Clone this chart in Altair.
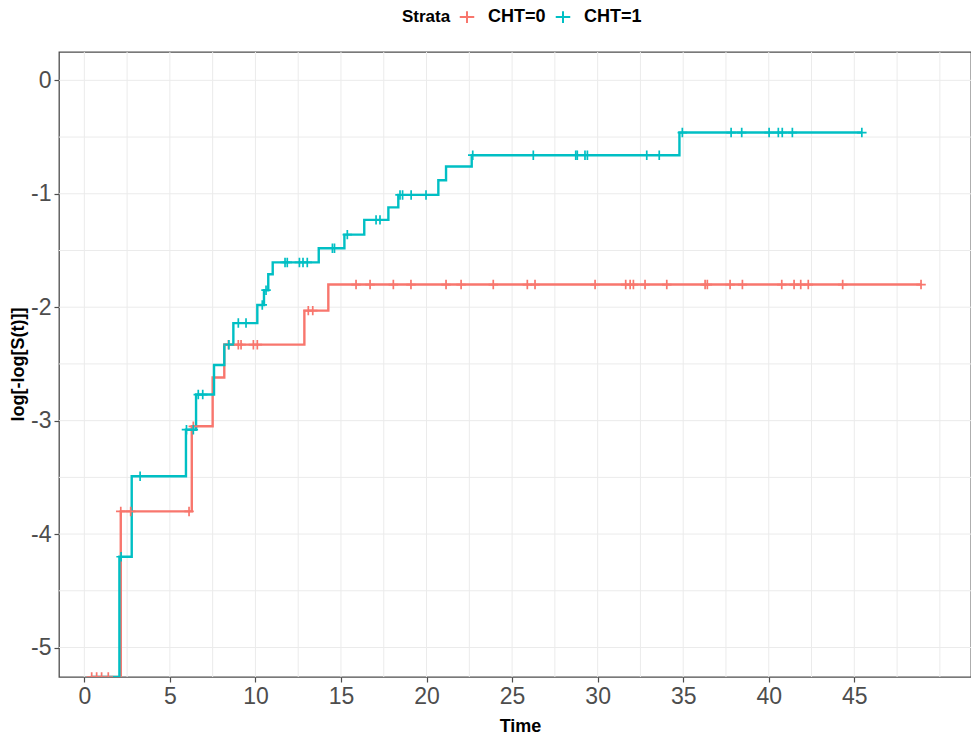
import altair as alt
import pandas as pd

# Scale limits of the panel
X_MIN, X_MAX = -1.48, 51.82
Y_MIN, Y_MAX = -5.26, 0.25
# log(-log(1)) is -inf: those stretches sit on the panel floor
FLOOR = Y_MIN

strata = ["CHT=0", "CHT=1"]
colors = ["#F8766D", "#00BFC4"]

# Step curves: time of each jump and the level reached there
cht0_times = [0.40, 2.13, 6.28, 7.50, 8.18, 12.86, 14.26, 48.90]
cht0_levels = [FLOOR, -3.80, -3.05, -2.62, -2.33, -2.03, -1.80, -1.80]

cht1_times = [0.37, 2.05, 2.77, 5.94, 6.53, 7.58, 8.18, 8.71, 10.11, 10.50,
              10.75, 11.01, 13.70, 15.20, 16.36, 17.77, 18.35, 20.69, 21.14,
              22.64, 34.78, 45.44]
cht1_levels = [FLOOR, -4.20, -3.49, -3.08, -2.77, -2.51, -2.33, -2.14, -1.98,
               -1.85, -1.71, -1.605, -1.48, -1.36, -1.23, -1.12, -1.01, -0.88,
               -0.76, -0.66, -0.46, -0.46]

# Censoring times
cht0_censor = [0.43, 0.72, 1.01, 1.40, 2.13, 2.71, 6.12, 6.37, 8.42, 9.00,
               9.16, 9.88, 10.11, 13.09, 13.35, 15.88, 16.70, 18.06, 19.09,
               21.14, 22.02, 23.90, 25.89, 26.34, 29.85, 31.64, 31.90, 32.09,
               32.77, 34.04, 36.28, 36.41, 37.74, 38.46, 40.76, 41.48, 41.87,
               42.31, 44.32, 48.90]
cht1_censor = [2.15, 3.26, 5.97, 6.37, 6.66, 6.92, 8.45, 9.00, 9.45, 10.40,
               10.62, 11.73, 11.86, 12.57, 12.78, 13.03, 14.50, 14.62, 15.37,
               17.05, 17.28, 18.45, 18.60, 19.10, 19.97, 22.70, 26.24, 28.72,
               28.81, 29.26, 29.40, 32.87, 33.60, 34.95, 37.80, 38.42, 40.02,
               40.56, 40.79, 41.38, 45.44]

x_major = [0, 5, 10, 15, 20, 25, 30, 35, 40, 45]
x_grid = [i * 2.5 for i in range(21)]
y_major = [0, -1, -2, -3, -4, -5]
y_grid = [-i * 0.5 for i in range(11)]


def level_at(times, levels, t):
    lev = levels[0]
    for tt, lv in zip(times, levels):
        if tt <= t + 1e-9:
            lev = lv
    return lev


curves = pd.DataFrame(
    [{"time": t, "value": v, "strata": strata[0]} for t, v in zip(cht0_times, cht0_levels)]
    + [{"time": t, "value": v, "strata": strata[1]} for t, v in zip(cht1_times, cht1_levels)]
)
censors = pd.DataFrame(
    [{"time": t, "value": level_at(cht0_times, cht0_levels, t), "strata": strata[0]} for t in cht0_censor]
    + [{"time": t, "value": level_at(cht1_times, cht1_levels, t), "strata": strata[1]} for t in cht1_censor]
)

FONT = "Liberation Sans"
PLUS = "M-1,0L1,0M0,-1L0,1"

x_scale = alt.Scale(domain=[X_MIN, X_MAX], nice=False, zero=False)
y_scale = alt.Scale(domain=[Y_MIN, Y_MAX], nice=False, zero=False)

color = alt.Color(
    "strata:N",
    scale=alt.Scale(domain=strata, range=colors),
    legend=alt.Legend(
        title="Strata",
        orient="none",
        direction="horizontal",
        legendX=343,
        legendY=-44,
        titleOrient="left",
        titleFont=FONT,
        titleFontSize=17,
        titleFontWeight="bold",
        titleColor="#000000",
        titlePadding=7,
        labelFont=FONT,
        labelFontSize=18,
        labelFontWeight="bold",
        labelColor="#000000",
        labelOffset=12,
        columnPadding=5,
        symbolType="M-1,0L1,0M0,-0.8L0,0.8",
        symbolSize=210,
        symbolStrokeWidth=2,
        symbolFillColor="transparent",
    ),
)

x_axis = alt.Axis(
    values=x_major, grid=False, domain=False, title="Time",
    titleFont=FONT, titleFontSize=18, titleFontWeight="bold", titleColor="#000000",
    titleX=461, titleY=49, titleBaseline="middle",
    labelFont=FONT, labelFontSize=23, labelColor="#4D4D4D", labelPadding=3,
    labelExpr="datum.value + ''",
    tickColor="#4D4D4D", tickSize=5, tickWidth=1.2,
)
y_axis = alt.Axis(
    values=y_major, grid=False, domain=False, title="log[-log[S(t)]]",
    titleFont=FONT, titleFontSize=18, titleFontWeight="bold", titleColor="#000000",
    titleX=-41, titleY=312, titleBaseline="middle", titleAlign="center",
    labelFont=FONT, labelFontSize=23, labelColor="#4D4D4D", labelPadding=3,
    labelExpr="datum.value + ''",
    tickColor="#4D4D4D", tickSize=5, tickWidth=1.2,
)

vgrid = alt.Chart(pd.DataFrame({"g": x_grid})).mark_rule(
    color="#EBEBEB", strokeWidth=1
).encode(x=alt.X("g:Q", scale=x_scale, axis=x_axis))

hgrid = alt.Chart(pd.DataFrame({"g": y_grid})).mark_rule(
    color="#EBEBEB", strokeWidth=1
).encode(y=alt.Y("g:Q", scale=y_scale, axis=y_axis))

lines = alt.Chart(curves).mark_line(
    interpolate="step-after", strokeWidth=2.4, clip=True
).encode(
    x=alt.X("time:Q", scale=x_scale),
    y=alt.Y("value:Q", scale=y_scale),
    color=color,
    order="time:Q",
)

marks = alt.Chart(censors).mark_point(
    shape=PLUS, size=90, filled=False, strokeWidth=1.7, opacity=1, clip=True
).encode(
    x=alt.X("time:Q", scale=x_scale),
    y=alt.Y("value:Q", scale=y_scale),
    color=alt.Color("strata:N", scale=alt.Scale(domain=strata, range=colors), legend=None),
)

chart = alt.layer(vgrid, hgrid, lines, marks).properties(
    width=912,
    height=625,
    autosize=alt.AutoSizeParams(type="none"),
    padding={"left": 59, "top": 52, "right": 0, "bottom": 58},
    background="#FFFFFF",
).configure_view(
    stroke="#4D4D4D", strokeWidth=1.3
)

chart.save("out.html", embed_options={"renderer": "svg", "actions": False})
